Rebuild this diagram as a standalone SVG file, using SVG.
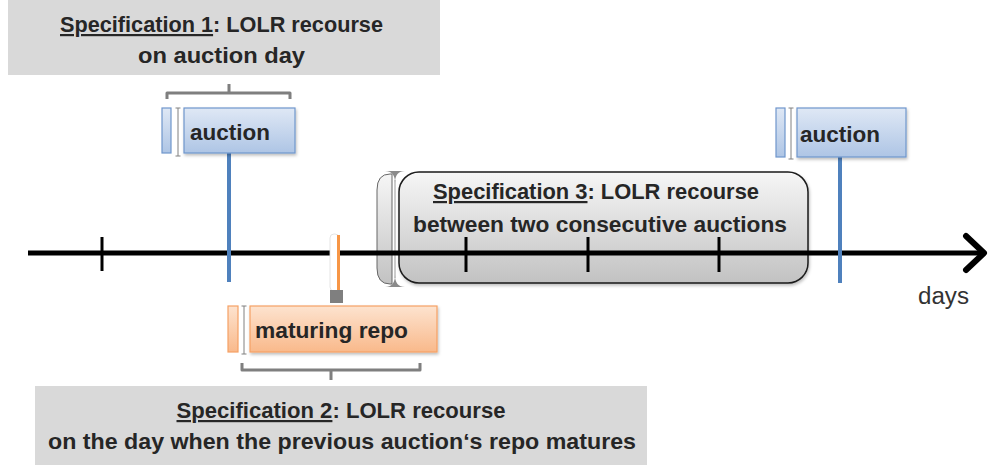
<svg xmlns="http://www.w3.org/2000/svg" width="992" height="465" viewBox="0 0 992 465">
<defs>
<linearGradient id="gBlue" x1="0" y1="0" x2="0" y2="1"><stop offset="0" stop-color="#dfe8f5"/><stop offset="1" stop-color="#aec5e5"/></linearGradient>
<linearGradient id="gOrange" x1="0" y1="0" x2="0" y2="1"><stop offset="0" stop-color="#fde3cf"/><stop offset="1" stop-color="#f9b98b"/></linearGradient>
<linearGradient id="gGray" x1="0" y1="0" x2="0" y2="1"><stop offset="0" stop-color="#f6f6f6"/><stop offset="0.5" stop-color="#dcdcdc"/><stop offset="1" stop-color="#c2c2c2"/></linearGradient>
<filter id="sh" x="-10%" y="-10%" width="130%" height="140%"><feDropShadow dx="1" dy="2" stdDeviation="1.5" flood-color="#000" flood-opacity="0.25"/></filter>
</defs>
<style>
text{font-family:"Liberation Sans",Arial,sans-serif;fill:#262626}
.b{font-weight:bold;font-size:22px}
.l{font-weight:bold;font-size:22.5px}
.u{text-decoration:underline}
.spec{fill:#d9d9d9}
.blue{fill:url(#gBlue);stroke:#6f96cc;stroke-width:1.2}
.orange{fill:url(#gOrange);stroke:#f5a165;stroke-width:1.2}
.ibar{stroke:#808080;stroke-width:1;fill:none}
.brk{stroke:#7f7f7f;stroke-width:3;fill:none;stroke-linejoin:round}
.tick{stroke:#000;stroke-width:3}
</style>

<g id="spec1">
<rect class="spec" x="8" y="0" width="432" height="75"/>
<text class="b" x="221.5" y="32" text-anchor="middle" textLength="323" lengthAdjust="spacingAndGlyphs"><tspan class="u">Specification 1</tspan>: LOLR recourse</text>
<text class="b" x="221.5" y="63" text-anchor="middle" textLength="167" lengthAdjust="spacingAndGlyphs">on auction day</text>
</g>

<g id="spec3">
<path d="M392 174 H390 Q377 174 377 190 V268 Q377 284 390 284 H392 Z" fill="url(#gGray)" stroke="#666" stroke-width="1"/>
<line x1="395" y1="180" x2="395" y2="278" stroke="#999" stroke-width="1"/>
<path d="M385 171 Q395 171 395 183 Q395 171 405 171 Z" fill="#8a8a8a"/>
<path d="M385 287 Q395 287 395 275 Q395 287 405 287 Z" fill="#8a8a8a"/>
<rect x="399" y="172" width="409" height="111" rx="20" fill="url(#gGray)" stroke="#1a1a1a" stroke-width="1.5" filter="url(#sh)"/>
<text class="b" x="596" y="199" text-anchor="middle" textLength="326" lengthAdjust="spacingAndGlyphs"><tspan class="u">Specification 3</tspan>: LOLR recourse</text>
<text class="b" x="600" y="232" text-anchor="middle" textLength="374" lengthAdjust="spacingAndGlyphs">between two consecutive auctions</text>
</g>

<g id="connectors">
<line x1="28" y1="253" x2="982" y2="253" stroke="#000" stroke-width="5"/>
<polyline points="966,236 984,253 966,270" fill="none" stroke="#000" stroke-width="6" stroke-linecap="round" stroke-linejoin="round"/>
<line class="tick" x1="102" y1="237" x2="102" y2="271"/>
<line class="tick" x1="466" y1="237" x2="466" y2="272"/>
<line class="tick" x1="588" y1="237" x2="588" y2="272"/>
<line class="tick" x1="719" y1="237" x2="719" y2="272"/>
<line x1="229" y1="153" x2="229" y2="282" stroke="#4f81bd" stroke-width="4"/>
<line x1="840" y1="157" x2="840" y2="283" stroke="#4f81bd" stroke-width="4"/>
<rect x="330" y="234" width="9" height="57" rx="4" fill="#fff" stroke="#ddd" stroke-width="0.8"/>
<line x1="338.5" y1="235" x2="338.5" y2="292" stroke="#f79646" stroke-width="3"/>
<rect x="330" y="290" width="13" height="13" fill="#7f7f7f"/>
<path class="brk" d="M167 99 V93 H290 V99 M229 93 V84"/>
<path class="brk" d="M242 363 V370 H420 V363 M331 370 V380"/>
</g>

<g id="auction1">
<rect class="blue" x="162" y="108" width="9" height="45"/>
<path class="ibar" d="M178 108 V156 M175.5 108 H180.5 M175.5 156 H180.5"/>
<rect class="blue" x="184" y="108" width="111" height="45" filter="url(#sh)"/>
<text class="l" x="190" y="140" textLength="80" lengthAdjust="spacingAndGlyphs">auction</text>
</g>

<g id="auction2">
<rect class="blue" x="776" y="108" width="9" height="49"/>
<path class="ibar" d="M791 108 V159 M788.5 108 H793.5 M788.5 159 H793.5"/>
<rect class="blue" x="797" y="108" width="109" height="49" filter="url(#sh)"/>
<text class="l" x="800" y="142" textLength="80" lengthAdjust="spacingAndGlyphs">auction</text>
</g>

<g id="repo">
<rect class="orange" x="228" y="306" width="10" height="46"/>
<path class="ibar" d="M244 306 V354 M241.5 306 H246.5 M241.5 354 H246.5"/>
<rect class="orange" x="250" y="306" width="187" height="46" filter="url(#sh)"/>
<text class="l" x="255" y="338" textLength="153" lengthAdjust="spacingAndGlyphs">maturing repo</text>
</g>

<g id="spec2">
<rect class="spec" x="35" y="386" width="612" height="79"/>
<text class="b" x="341" y="418" text-anchor="middle" textLength="329" lengthAdjust="spacingAndGlyphs"><tspan class="u">Specification 2</tspan>: LOLR recourse</text>
<text class="b" x="342" y="449" text-anchor="middle" textLength="588" lengthAdjust="spacingAndGlyphs">on the day when the previous auction‘s repo matures</text>
</g>

<g id="days">
<text x="918" y="304" textLength="51" lengthAdjust="spacingAndGlyphs" style="font-size:23px;fill:#333">days</text>
</g>
</svg>
